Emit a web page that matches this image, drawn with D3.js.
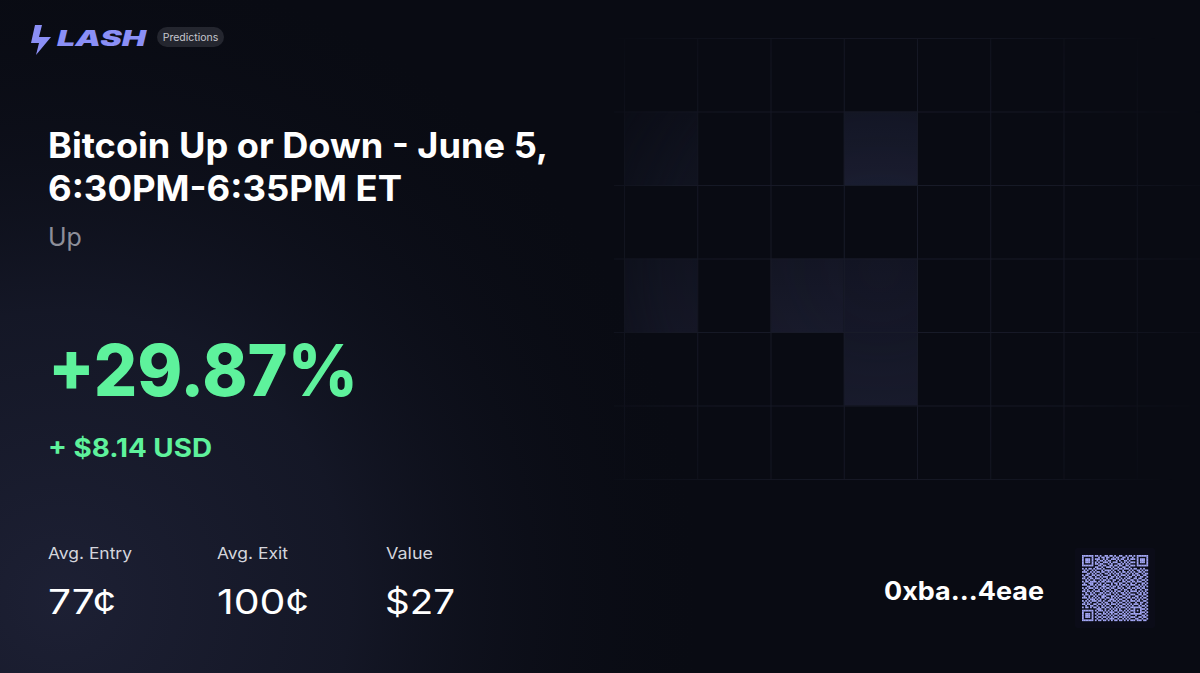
<!DOCTYPE html>
<html>
<head>
<meta charset="utf-8">
<script src="https://cdn.jsdelivr.net/npm/d3@7"></script>
<style>
  html, body { margin: 0; padding: 0; background: #090b13; }
  svg { display: block; }
</style>
</head>
<body>
<div id="chart"></div>
<script>
const width = 1200;
const height = 673;

// card texts
const marketTitle = ["Bitcoin Up or Down - June 5,", "6:30PM-6:35PM ET"];
const outcome = "Up";
const pnlPercent = "+29.87%";
const pnlUsd = "+ $8.14 USD";
const statLabels = ["Avg. Entry", "Avg. Exit", "Value"];
const statValues = ["77¢", "100¢", "$27"];
const wallet = "0xba...4eae";

// background grid: 8 columns x 6 rows, lit cells with a brightness level 0..1
const gridCols = d3.range(8);
const gridRows = d3.range(6);
const litCells = [
    { col: 0, row: 1, level: 0.35 },
    { col: 3, row: 1, level: 0.85 },
    { col: 0, row: 3, level: 0.6 },
    { col: 2, row: 3, level: 0.7 },
    { col: 3, row: 3, level: 0.55 },
    { col: 3, row: 4, level: 0.8 }
];

// qr modules (finder / alignment patterns are drawn on top)
const qrRows = [
    "10110100 11010011 01101001 10010110 101101001",
    "01101011 00101101 10010110 01101001 010010110",
    "11010010 11100101 00111010 11001011 100110101",
    "00101101 01011010 11000101 00110100 011011010",
    "10011010 10100111 01011100 10101011 110100101",
    "01100101 11011000 10100011 01010100 001011011",
    "11001011 00110110 01101101 10011011 101010100",
    "00110100 11001001 11010010 01100100 010101011",
    "10101101 01110100 00101101 10111010 110010100",
    "01010010 10001011 11010010 01000101 001101011",
    "11100101 01101100 10101001 01101010 100110100",
    "00011010 10010011 01010110 10010101 011001011",
    "10110011 01101000 11001010 11101001 101100110",
    "01001100 10010111 00110101 00010110 010011001",
    "11010110 11101001 01100110 10101100 110110010",
    "00101001 00010110 10011001 01010011 001001101",
    "10110111 10101101 11010010 01101101 101110010",
    "01001110 01010010 00101101 10010010 010001101",
    "11100110 10110101 10100101 01101011 100101010",
    "00011001 01001110 01011010 10010100 011010101",
    "10101110 11010101 10110011 01001101 101101100",
    "01010001 00101010 01001100 10110010 010010011",
    "11011010 11100101 10101011 00101011 110101010",
    "00100101 00011010 01010100 11010100 001010101",
    "10110110 10110101 11001010 01101011 100110110",
    "01001001 01001110 00110101 10010100 011001001",
    "11101010 10101101 10101010 01101101 101010110",
    "00010111 01010010 01110101 10010010 010101001",
    "10101011 10110100 11011010 01101011 101100110",
    "01010100 01001011 00100101 10010100 010011001",
    "11011001 10110101 10111010 01101010 111010010",
    "00100110 01001010 01000101 10010101 000101101",
    "10110101 10101101 10101010 11101011 101010010",
    "01001010 01110010 01010101 00010100 010101101",
    "11010101 10111010 10101101 10101011 100110010",
    "00101010 01000101 01110010 01010100 011001101",
    "10110101 10110110 10101101 10101011 101110010",
    "01001010 01001001 01010010 01110100 010001101",
    "11010110 10110110 10101101 10101011 100110110",
    "00101001 01001001 01110010 01010100 011001001",
    "10110110 10110110 10101101 10101011 101110110"
];

const svg = d3.select("#chart").append("svg")
    .attr("width", width)
    .attr("height", height)
    .attr("viewBox", [0, 0, width, height]);

const defs = svg.append("defs");

// base + soft glow bottom-left
svg.append("rect").attr("width", width).attr("height", height).attr("fill", "#090b13");

const glow = defs.append("radialGradient").attr("id", "glow")
    .attr("gradientUnits", "userSpaceOnUse")
    .attr("cx", 60).attr("cy", 600).attr("r", 640);
glow.append("stop").attr("offset", 0).attr("stop-color", "#1d2034").attr("stop-opacity", 1);
glow.append("stop").attr("offset", 0.45).attr("stop-color", "#171a2b").attr("stop-opacity", 0.8);
glow.append("stop").attr("offset", 1).attr("stop-color", "#0b0d17").attr("stop-opacity", 0);
svg.append("rect").attr("width", width).attr("height", height).attr("fill", "url(#glow)");

// grid
const x = d3.scaleLinear().domain([0, 8]).range([624, 1210]);
const y = d3.scaleLinear().domain([0, 6]).range([38, 479]);

const fade = defs.append("radialGradient").attr("id", "fade")
    .attr("gradientUnits", "userSpaceOnUse")
    .attr("cx", 880).attr("cy", 270).attr("r", 360);
fade.append("stop").attr("offset", 0).attr("stop-color", "white").attr("stop-opacity", 1);
fade.append("stop").attr("offset", 0.6).attr("stop-color", "white").attr("stop-opacity", 0.75);
fade.append("stop").attr("offset", 1).attr("stop-color", "white").attr("stop-opacity", 0);
defs.append("mask").attr("id", "gridMask")
    .append("rect").attr("width", width).attr("height", height).attr("fill", "url(#fade)");

const grid = svg.append("g").attr("mask", "url(#gridMask)");

const cellColor = d3.scaleLinear().domain([0, 1]).range(["#0d0f1a", "#1f2237"]);

litCells.forEach((d, i) => {
    const g = defs.append("linearGradient").attr("id", `cell${i}`)
        .attr("x1", 0).attr("y1", 0).attr("x2", 0).attr("y2", 1);
    g.append("stop").attr("offset", 0).attr("stop-color", cellColor(d.level * 0.6));
    g.append("stop").attr("offset", 1).attr("stop-color", cellColor(d.level));
});

grid.selectAll("rect.cell").data(litCells).join("rect")
    .attr("class", "cell")
    .attr("x", d => x(d.col))
    .attr("y", d => y(d.row))
    .attr("width", d => x(d.col + 1) - x(d.col))
    .attr("height", d => y(d.row + 1) - y(d.row))
    .attr("fill", (d, i) => `url(#cell${i})`);

grid.selectAll("line.v").data(d3.range(gridCols.length + 1)).join("line")
    .attr("class", "v")
    .attr("x1", d => x(d) + 0.5).attr("x2", d => x(d) + 0.5)
    .attr("y1", y(0)).attr("y2", y(gridRows.length))
    .attr("stroke", "#1a1d2b").attr("stroke-width", 1);

grid.selectAll("line.h").data(d3.range(gridRows.length + 1)).join("line")
    .attr("class", "h")
    .attr("y1", d => y(d) + 0.5).attr("y2", d => y(d) + 0.5)
    .attr("x1", x(0) - 10).attr("x2", width)
    .attr("stroke", "#1a1d2b").attr("stroke-width", 1);

// logo
const logo = svg.append("g");
logo.append("path")
    .attr("d", "M35,25 L42,25 L39,37 L51,37 L36,55 L39,43 L31,43 Z")
    .attr("fill", "#8b8ff6");
logo.append("text")
    .attr("x", 57).attr("y", 46)
    .attr("font-family", "Inter, sans-serif")
    .attr("font-weight", 900)
    .attr("font-style", "italic")
    .attr("font-size", 22)
    .attr("textLength", 89)
    .attr("lengthAdjust", "spacingAndGlyphs")
    .attr("fill", "#8b8ff6")
    .text("LASH");

logo.append("rect")
    .attr("x", 157).attr("y", 27).attr("width", 67).attr("height", 20).attr("rx", 10)
    .attr("fill", "#24262f");
logo.append("text")
    .attr("x", 190.5).attr("y", 41)
    .attr("text-anchor", "middle")
    .attr("font-family", "Inter, sans-serif")
    .attr("font-size", 10.5)
    .attr("fill", "#c6c7ce")
    .text("Predictions");

// title
const titleWidths = [500, 354];
svg.append("g").selectAll("text").data(marketTitle).join("text")
    .attr("x", 48)
    .attr("y", (d, i) => 158 + i * 43)
    .attr("font-family", "Inter, sans-serif")
    .attr("font-weight", 700)
    .attr("font-size", 35)
    .attr("textLength", (d, i) => titleWidths[i])
    .attr("lengthAdjust", "spacingAndGlyphs")
    .attr("fill", "#ffffff")
    .text(d => d);

svg.append("text")
    .attr("x", 48).attr("y", 246)
    .attr("font-family", "Inter, sans-serif")
    .attr("font-size", 25)
    .attr("fill", "#8d8e99")
    .text(outcome);

// pnl
svg.append("text")
    .attr("x", 48).attr("y", 396)
    .attr("font-family", "Inter, sans-serif")
    .attr("font-weight", 800)
    .attr("font-size", 71)
    .attr("textLength", 310)
    .attr("lengthAdjust", "spacingAndGlyphs")
    .attr("fill", "#5ef29c")
    .text(pnlPercent);

svg.append("text")
    .attr("x", 48).attr("y", 457)
    .attr("font-family", "Inter, sans-serif")
    .attr("font-weight", 700)
    .attr("font-size", 25)
    .attr("textLength", 164)
    .attr("lengthAdjust", "spacingAndGlyphs")
    .attr("fill", "#5ef29c")
    .text(pnlUsd);

// stats
const statX = d3.scalePoint().domain(statLabels).range([48, 386]);
const labelWidths = [84, 71, 47];
const valueWidths = [68, 92, 70];

svg.append("g").selectAll("text").data(statLabels).join("text")
    .attr("x", d => statX(d))
    .attr("y", 559)
    .attr("font-family", "Inter, sans-serif")
    .attr("font-size", 16.5)
    .attr("textLength", (d, i) => labelWidths[i])
    .attr("lengthAdjust", "spacingAndGlyphs")
    .attr("fill", "#d4d5dc")
    .text(d => d);

svg.append("g").selectAll("text").data(statValues).join("text")
    .attr("x", (d, i) => statX(statLabels[i]) - (i === 2 ? 1 : 0))
    .attr("y", 614)
    .attr("font-family", "Inter, sans-serif")
    .attr("font-weight", 400)
    .attr("font-size", 34)
    .attr("textLength", (d, i) => valueWidths[i])
    .attr("lengthAdjust", "spacingAndGlyphs")
    .attr("fill", "#ffffff")
    .text(d => d);

// wallet
svg.append("text")
    .attr("x", 884).attr("y", 600)
    .attr("font-family", "Inter, sans-serif")
    .attr("font-weight", 700)
    .attr("font-size", 25)
    .attr("textLength", 160)
    .attr("lengthAdjust", "spacingAndGlyphs")
    .attr("fill", "#ffffff")
    .text(wallet);

// qr
const qrSize = qrRows.length;
const modules = qrRows.map(r => r.replace(/ /g, "").split("").map(Number));

function setFinder(r0, c0) {
    for (let r = -1; r <= 7; r++) {
        for (let c = -1; c <= 7; c++) {
            const rr = r0 + r, cc = c0 + c;
            if (rr < 0 || cc < 0 || rr >= qrSize || cc >= qrSize) continue;
            const ring = Math.max(Math.abs(r - 3), Math.abs(c - 3));
            modules[rr][cc] = (ring === 3 || ring <= 1) ? 1 : 0;
        }
    }
}
setFinder(0, 0);
setFinder(0, qrSize - 7);
setFinder(qrSize - 7, 0);
for (let r = -2; r <= 2; r++) {
    for (let c = -2; c <= 2; c++) {
        const ring = Math.max(Math.abs(r), Math.abs(c));
        modules[34 + r][34 + c] = (ring === 2 || ring === 0) ? 1 : 0;
    }
}

svg.append("rect")
    .attr("x", 1075).attr("y", 548).attr("width", 80).attr("height", 80).attr("rx", 2)
    .attr("fill", "#0b0c18");

const q = d3.scaleLinear().domain([0, qrSize]).range([1082, 1148]);
const qy = d3.scaleLinear().domain([0, qrSize]).range([555, 621]);

const cells = [];
modules.forEach((row, r) => row.forEach((v, c) => { if (v) cells.push({ r, c }); }));

svg.append("g").selectAll("rect").data(cells).join("rect")
    .attr("x", d => q(d.c))
    .attr("y", d => qy(d.r))
    .attr("width", q(1) - q(0) + 0.15)
    .attr("height", qy(1) - qy(0) + 0.15)
    .attr("fill", "#a4a8f6");
</script>
</body>
</html>
